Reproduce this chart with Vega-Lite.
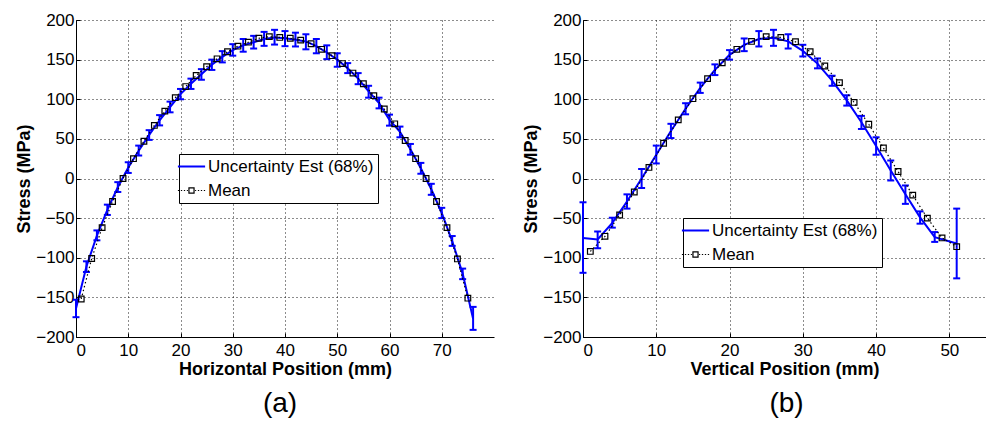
{
  "$schema": "https://vega.github.io/schema/vega-lite/v6.json",
  "background": "white",
  "padding": {"left": 15, "top": 11, "right": 0, "bottom": 0},
  "bounds": "flush",
  "spacing": 89,
  "resolve": {"scale": {"color": "independent", "x": "independent", "y": "independent"}, "legend": {"color": "independent"}},
  "datasets": {
    "a_unc": [
      {"x":0,"y":-164,"lo":-175,"hi":-153,"series":"Uncertainty Est (68%)"},
      {"x":2,"y":-111,"lo":-118,"hi":-104.5,"series":"Uncertainty Est (68%)"},
      {"x":4,"y":-72,"lo":-78,"hi":-65.5,"series":"Uncertainty Est (68%)"},
      {"x":6,"y":-39.5,"lo":-46,"hi":-33,"series":"Uncertainty Est (68%)"},
      {"x":8,"y":-11,"lo":-17,"hi":-4.6,"series":"Uncertainty Est (68%)"},
      {"x":10,"y":14,"lo":7,"hi":20.5,"series":"Uncertainty Est (68%)"},
      {"x":12,"y":35,"lo":29,"hi":41.5,"series":"Uncertainty Est (68%)"},
      {"x":14,"y":55,"lo":48.7,"hi":61,"series":"Uncertainty Est (68%)"},
      {"x":16,"y":73.5,"lo":67,"hi":80,"series":"Uncertainty Est (68%)"},
      {"x":18,"y":90,"lo":83.5,"hi":97,"series":"Uncertainty Est (68%)"},
      {"x":20,"y":106.5,"lo":100,"hi":113,"series":"Uncertainty Est (68%)"},
      {"x":22,"y":119.5,"lo":113,"hi":126,"series":"Uncertainty Est (68%)"},
      {"x":24,"y":131.5,"lo":124.6,"hi":138,"series":"Uncertainty Est (68%)"},
      {"x":26,"y":143.5,"lo":137,"hi":150,"series":"Uncertainty Est (68%)"},
      {"x":28,"y":153.5,"lo":146.5,"hi":160.7,"series":"Uncertainty Est (68%)"},
      {"x":30,"y":162,"lo":155,"hi":169.5,"series":"Uncertainty Est (68%)"},
      {"x":32,"y":168,"lo":160,"hi":176,"series":"Uncertainty Est (68%)"},
      {"x":34,"y":172,"lo":164,"hi":180,"series":"Uncertainty Est (68%)"},
      {"x":36,"y":176,"lo":167.4,"hi":185,"series":"Uncertainty Est (68%)"},
      {"x":38,"y":178,"lo":169,"hi":187.6,"series":"Uncertainty Est (68%)"},
      {"x":40,"y":177,"lo":167,"hi":186,"series":"Uncertainty Est (68%)"},
      {"x":42,"y":175,"lo":166.6,"hi":184,"series":"Uncertainty Est (68%)"},
      {"x":44,"y":173,"lo":163,"hi":182,"series":"Uncertainty Est (68%)"},
      {"x":46,"y":167,"lo":158,"hi":176,"series":"Uncertainty Est (68%)"},
      {"x":48,"y":159,"lo":150.6,"hi":168,"series":"Uncertainty Est (68%)"},
      {"x":50,"y":150,"lo":141,"hi":158,"series":"Uncertainty Est (68%)"},
      {"x":52,"y":139,"lo":133,"hi":145.6,"series":"Uncertainty Est (68%)"},
      {"x":54,"y":126,"lo":119,"hi":133,"series":"Uncertainty Est (68%)"},
      {"x":56,"y":110,"lo":102,"hi":117,"series":"Uncertainty Est (68%)"},
      {"x":58,"y":95,"lo":88.5,"hi":102,"series":"Uncertainty Est (68%)"},
      {"x":60,"y":74,"lo":66.7,"hi":80.6,"series":"Uncertainty Est (68%)"},
      {"x":62,"y":59,"lo":52,"hi":65.5,"series":"Uncertainty Est (68%)"},
      {"x":64,"y":37,"lo":30,"hi":43.6,"series":"Uncertainty Est (68%)"},
      {"x":66,"y":13,"lo":6,"hi":19.7,"series":"Uncertainty Est (68%)"},
      {"x":68,"y":-13.5,"lo":-20.6,"hi":-6.7,"series":"Uncertainty Est (68%)"},
      {"x":70,"y":-43.5,"lo":-50,"hi":-37,"series":"Uncertainty Est (68%)"},
      {"x":72,"y":-79,"lo":-85,"hi":-72.6,"series":"Uncertainty Est (68%)"},
      {"x":74,"y":-120,"lo":-127,"hi":-113.7,"series":"Uncertainty Est (68%)"},
      {"x":76,"y":-177,"lo":-191,"hi":-162,"series":"Uncertainty Est (68%)"}
    ],
    "a_mean": [
      {"x":1,"y":-152,"series":"Mean"},{"x":3,"y":-101,"series":"Mean"},{"x":5,"y":-62,"series":"Mean"},
      {"x":7,"y":-29,"series":"Mean"},{"x":9,"y":0,"series":"Mean"},{"x":11,"y":25,"series":"Mean"},
      {"x":13,"y":47,"series":"Mean"},{"x":15,"y":67,"series":"Mean"},{"x":17,"y":85,"series":"Mean"},
      {"x":19,"y":102,"series":"Mean"},{"x":21,"y":116,"series":"Mean"},{"x":23,"y":130,"series":"Mean"},
      {"x":25,"y":141,"series":"Mean"},{"x":27,"y":151,"series":"Mean"},{"x":29,"y":160,"series":"Mean"},
      {"x":31,"y":167,"series":"Mean"},{"x":33,"y":172,"series":"Mean"},{"x":35,"y":177,"series":"Mean"},
      {"x":37,"y":179,"series":"Mean"},{"x":39,"y":178,"series":"Mean"},{"x":41,"y":177,"series":"Mean"},
      {"x":43,"y":174.6,"series":"Mean"},{"x":45,"y":170,"series":"Mean"},{"x":47,"y":163,"series":"Mean"},
      {"x":49,"y":155,"series":"Mean"},{"x":51,"y":145,"series":"Mean"},{"x":53,"y":133,"series":"Mean"},
      {"x":55,"y":119.6,"series":"Mean"},{"x":57,"y":104.5,"series":"Mean"},{"x":59,"y":87.7,"series":"Mean"},
      {"x":61,"y":69,"series":"Mean"},{"x":63,"y":48,"series":"Mean"},{"x":65,"y":25,"series":"Mean"},
      {"x":67,"y":0,"series":"Mean"},{"x":69,"y":-29,"series":"Mean"},{"x":71,"y":-62,"series":"Mean"},
      {"x":73,"y":-101.5,"series":"Mean"},{"x":75,"y":-151,"series":"Mean"}
    ],
    "b_unc": [
      {"x":0,"y":-75,"lo":-119,"hi":-30,"series":"Uncertainty Est (68%)"},
      {"x":2,"y":-77,"lo":-88,"hi":-67,"series":"Uncertainty Est (68%)"},
      {"x":4,"y":-56,"lo":-62,"hi":-49.5,"series":"Uncertainty Est (68%)"},
      {"x":6,"y":-29,"lo":-38,"hi":-20,"series":"Uncertainty Est (68%)"},
      {"x":8,"y":0,"lo":-12,"hi":12,"series":"Uncertainty Est (68%)"},
      {"x":10,"y":30,"lo":19,"hi":41.5,"series":"Uncertainty Est (68%)"},
      {"x":12,"y":60,"lo":51,"hi":69,"series":"Uncertainty Est (68%)"},
      {"x":14,"y":88,"lo":81,"hi":95,"series":"Uncertainty Est (68%)"},
      {"x":16,"y":114.5,"lo":108,"hi":121,"series":"Uncertainty Est (68%)"},
      {"x":18,"y":137,"lo":130.5,"hi":144,"series":"Uncertainty Est (68%)"},
      {"x":20,"y":156,"lo":150,"hi":162,"series":"Uncertainty Est (68%)"},
      {"x":22,"y":168.7,"lo":160.7,"hi":176.7,"series":"Uncertainty Est (68%)"},
      {"x":24,"y":176,"lo":166.6,"hi":186,"series":"Uncertainty Est (68%)"},
      {"x":26,"y":177.5,"lo":167.4,"hi":187.6,"series":"Uncertainty Est (68%)"},
      {"x":28,"y":173,"lo":164,"hi":182,"series":"Uncertainty Est (68%)"},
      {"x":30,"y":161,"lo":154,"hi":168.7,"series":"Uncertainty Est (68%)"},
      {"x":32,"y":145,"lo":139,"hi":151.5,"series":"Uncertainty Est (68%)"},
      {"x":34,"y":123.4,"lo":117,"hi":129.7,"series":"Uncertainty Est (68%)"},
      {"x":36,"y":98.5,"lo":92,"hi":105,"series":"Uncertainty Est (68%)"},
      {"x":38,"y":71,"lo":62.5,"hi":79,"series":"Uncertainty Est (68%)"},
      {"x":40,"y":41,"lo":30,"hi":52,"series":"Uncertainty Est (68%)"},
      {"x":42,"y":10,"lo":-2.5,"hi":22.7,"series":"Uncertainty Est (68%)"},
      {"x":44,"y":-20,"lo":-32,"hi":-8.8,"series":"Uncertainty Est (68%)"},
      {"x":46,"y":-49,"lo":-57,"hi":-41.5,"series":"Uncertainty Est (68%)"},
      {"x":48,"y":-74,"lo":-80,"hi":-67.6,"series":"Uncertainty Est (68%)"},
      {"x":51,"y":-82,"lo":-126,"hi":-38,"series":"Uncertainty Est (68%)"}
    ],
    "b_mean": [
      {"x":1,"y":-92,"series":"Mean"},{"x":3,"y":-73,"series":"Mean"},{"x":5,"y":-46,"series":"Mean"},
      {"x":7,"y":-17,"series":"Mean"},{"x":9,"y":14,"series":"Mean"},{"x":11,"y":44.5,"series":"Mean"},
      {"x":13,"y":74,"series":"Mean"},{"x":15,"y":100.7,"series":"Mean"},{"x":17,"y":126,"series":"Mean"},
      {"x":19,"y":146,"series":"Mean"},{"x":21,"y":163,"series":"Mean"},{"x":23,"y":173,"series":"Mean"},
      {"x":25,"y":179,"series":"Mean"},{"x":27,"y":178,"series":"Mean"},{"x":29,"y":172.5,"series":"Mean"},
      {"x":31,"y":160,"series":"Mean"},{"x":33,"y":142,"series":"Mean"},{"x":35,"y":121,"series":"Mean"},
      {"x":37,"y":96,"series":"Mean"},{"x":39,"y":68.4,"series":"Mean"},{"x":41,"y":38.6,"series":"Mean"},
      {"x":43,"y":8.8,"series":"Mean"},{"x":45,"y":-21,"series":"Mean"},{"x":47,"y":-50,"series":"Mean"},
      {"x":49,"y":-75,"series":"Mean"},{"x":51,"y":-86,"series":"Mean"}
    ]
  },
  "hconcat": [
    {
      "width": 418,
      "height": 317,
      "title": {"text": "(a)", "orient": "bottom", "fontSize": 28, "fontWeight": "normal", "offset": 12, "frame": "group", "anchor": "middle", "dx": -5, "color": "black"},
      "layer": [
        {
          "data": {"name": "a_unc"},
          "mark": {"type": "line", "strokeWidth": 2},
          "encoding": {
            "x": {"field": "x", "type": "quantitative", "scale": {"domain": [0, 80], "nice": false, "zero": false}, "axis": {"values": [0,10,20,30,40,50,60,70], "tickCount": 20, "grid": true, "labelOverlap": false, "title": "Horizontal Position (mm)"}},
            "y": {"field": "y", "type": "quantitative", "scale": {"domain": [-200, 200], "nice": false}, "axis": {"values": [-200,-150,-100,-50,0,50,100,150,200], "tickCount": 20, "grid": true, "labelOverlap": false, "title": "Stress (MPa)"}},
            "color": {"field": "series", "type": "nominal", "scale": {"domain": ["Uncertainty Est (68%)", "Mean"], "range": ["#0000ff", "#000000"]},
              "legend": {"title": null, "orient": "none", "legendX": 103, "legendY": 134, "strokeColor": "black", "fillColor": "white", "padding": 4, "labelFontSize": 17, "labelLimit": 400, "labelColor": "black", "symbolSize": 289, "labelOffset": 8, "rowPadding": 6,
                "encode": {"symbols": {"update": {"shape": {"signal": "datum.value === 'Mean' ? 'M-1.6,0H-1.45M-1.25,0H-1.1M-0.9,0H-0.75M-0.55,0H-0.42M0.42,0H0.55M0.75,0H0.9M1.1,0H1.25M1.45,0H1.6M-0.3,-0.3H0.3V0.3H-0.3Z' : 'M-1.6,0H1.6'"}, "strokeWidth": {"signal": "datum.value === 'Mean' ? 1.2 : 2"}, "fill": {"value": "transparent"}, "strokeDash": {"value": []}}}}}}
          }
        },
        {
          "data": {"name": "a_unc"},
          "mark": {"type": "rule", "color": "#0000ff", "strokeWidth": 2},
          "encoding": {"x": {"field": "x", "type": "quantitative"}, "y": {"field": "lo", "type": "quantitative"}, "y2": {"field": "hi"}}
        },
        {
          "data": {"name": "a_unc"},
          "mark": {"type": "tick", "color": "#0000ff", "orient": "horizontal", "size": 7, "thickness": 2, "opacity": 1},
          "encoding": {"x": {"field": "x", "type": "quantitative"}, "y": {"field": "lo", "type": "quantitative"}}
        },
        {
          "data": {"name": "a_unc"},
          "mark": {"type": "tick", "color": "#0000ff", "orient": "horizontal", "size": 7, "thickness": 2, "opacity": 1},
          "encoding": {"x": {"field": "x", "type": "quantitative"}, "y": {"field": "hi", "type": "quantitative"}}
        },
        {
          "data": {"name": "a_mean"},
          "mark": {"type": "line", "strokeWidth": 1.2, "strokeDash": [1.5, 2.5]},
          "encoding": {
            "x": {"field": "x", "type": "quantitative"},
            "y": {"field": "y", "type": "quantitative"},
            "color": {"field": "series", "type": "nominal"}
          }
        },
        {
          "data": {"name": "a_mean"},
          "mark": {"type": "point", "shape": "square", "size": 32, "filled": false, "color": "black", "strokeWidth": 1.2, "opacity": 1},
          "encoding": {"x": {"field": "x", "type": "quantitative"}, "y": {"field": "y", "type": "quantitative"}}
        }
      ]
    },
    {
      "width": 403,
      "height": 317,
      "title": {"text": "(b)", "orient": "bottom", "fontSize": 28, "fontWeight": "normal", "offset": 12, "frame": "group", "anchor": "middle", "dx": 2, "color": "black"},
      "layer": [
        {
          "data": {"name": "b_unc"},
          "mark": {"type": "line", "strokeWidth": 2},
          "encoding": {
            "x": {"field": "x", "type": "quantitative", "scale": {"domain": [0, 55], "nice": false, "zero": false}, "axis": {"values": [0,10,20,30,40,50], "tickCount": 20, "grid": true, "labelOverlap": false, "title": "Vertical Position (mm)"}},
            "y": {"field": "y", "type": "quantitative", "scale": {"domain": [-200, 200], "nice": false}, "axis": {"values": [-200,-150,-100,-50,0,50,100,150,200], "tickCount": 20, "grid": true, "labelOverlap": false, "title": "Stress (MPa)"}},
            "color": {"field": "series", "type": "nominal", "scale": {"domain": ["Uncertainty Est (68%)", "Mean"], "range": ["#0000ff", "#000000"]},
              "legend": {"title": null, "orient": "none", "legendX": 100, "legendY": 198, "strokeColor": "black", "fillColor": "white", "padding": 4, "labelFontSize": 17, "labelLimit": 400, "labelColor": "black", "symbolSize": 289, "labelOffset": 8, "rowPadding": 6,
                "encode": {"symbols": {"update": {"shape": {"signal": "datum.value === 'Mean' ? 'M-1.6,0H-1.45M-1.25,0H-1.1M-0.9,0H-0.75M-0.55,0H-0.42M0.42,0H0.55M0.75,0H0.9M1.1,0H1.25M1.45,0H1.6M-0.3,-0.3H0.3V0.3H-0.3Z' : 'M-1.6,0H1.6'"}, "strokeWidth": {"signal": "datum.value === 'Mean' ? 1.2 : 2"}, "fill": {"value": "transparent"}, "strokeDash": {"value": []}}}}}}
          }
        },
        {
          "data": {"name": "b_unc"},
          "mark": {"type": "rule", "color": "#0000ff", "strokeWidth": 2},
          "encoding": {"x": {"field": "x", "type": "quantitative"}, "y": {"field": "lo", "type": "quantitative"}, "y2": {"field": "hi"}}
        },
        {
          "data": {"name": "b_unc"},
          "mark": {"type": "tick", "color": "#0000ff", "orient": "horizontal", "size": 7, "thickness": 2, "opacity": 1},
          "encoding": {"x": {"field": "x", "type": "quantitative"}, "y": {"field": "lo", "type": "quantitative"}}
        },
        {
          "data": {"name": "b_unc"},
          "mark": {"type": "tick", "color": "#0000ff", "orient": "horizontal", "size": 7, "thickness": 2, "opacity": 1},
          "encoding": {"x": {"field": "x", "type": "quantitative"}, "y": {"field": "hi", "type": "quantitative"}}
        },
        {
          "data": {"name": "b_mean"},
          "mark": {"type": "line", "strokeWidth": 1.2, "strokeDash": [1.5, 2.5]},
          "encoding": {
            "x": {"field": "x", "type": "quantitative"},
            "y": {"field": "y", "type": "quantitative"},
            "color": {"field": "series", "type": "nominal"}
          }
        },
        {
          "data": {"name": "b_mean"},
          "mark": {"type": "point", "shape": "square", "size": 32, "filled": false, "color": "black", "strokeWidth": 1.2, "opacity": 1},
          "encoding": {"x": {"field": "x", "type": "quantitative"}, "y": {"field": "y", "type": "quantitative"}}
        }
      ]
    }
  ],
  "config": {
    "font": "Liberation Sans",
    "view": {"stroke": null},
    "axis": {"domainColor": "black", "domainWidth": 1, "tickColor": "black", "tickSize": -4, "labelColor": "black", "labelFontSize": 17, "titleFontSize": 18, "titleFontWeight": "bold", "titleColor": "black", "gridColor": "black", "gridDash": [1, 3], "gridOpacity": 0.9, "gridWidth": 1, "labelOverlap": false},
    "axisX": {"labelPadding": 9, "titlePadding": 2},
    "axisY": {"labelPadding": 6, "titlePadding": 2}
  }
}
